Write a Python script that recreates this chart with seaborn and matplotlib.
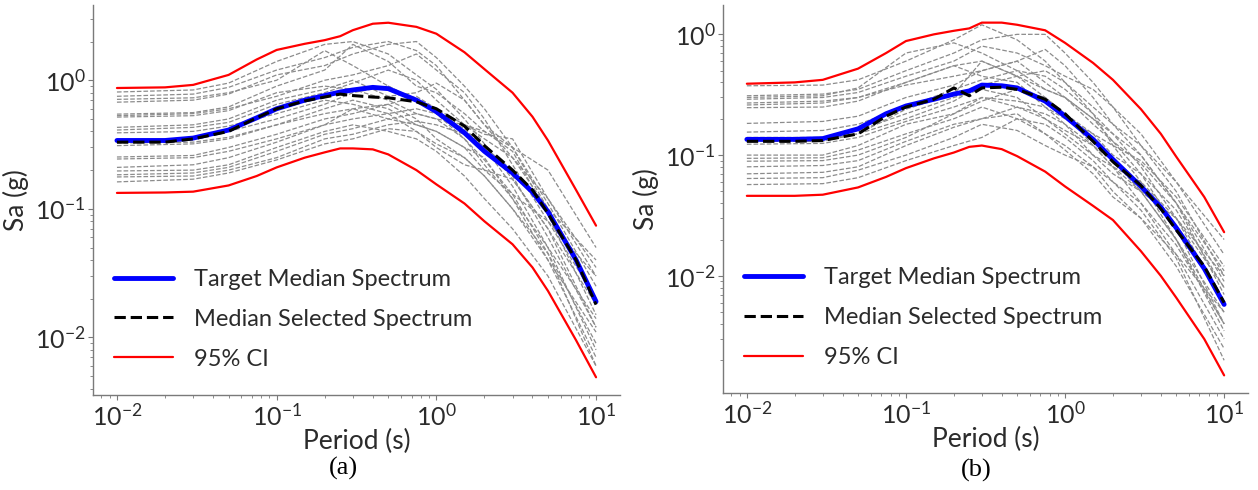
import numpy as np
import pandas as pd
import matplotlib
matplotlib.use("Agg")
import matplotlib.pyplot as plt
import seaborn as sns

# Periods (s) used for the target / CI curves
periods = [0.01, 0.02, 0.03, 0.05, 0.075, 0.1, 0.15, 0.2, 0.25, 0.3, 0.4,
           0.5, 0.75, 1.0, 1.5, 2.0, 3.0, 4.0, 5.0, 7.5, 10.0]
# Periods (s) at which the individual selected records are read
rec_periods = [0.01, 0.03, 0.05, 0.1, 0.2, 0.3, 0.5, 0.75, 1.0, 1.5, 2.0,
               3.0, 5.0, 10.0]

# ---- panel (a) ----
target_a = [0.34, 0.34, 0.355, 0.41, 0.51, 0.6, 0.7, 0.76, 0.81, 0.84, 0.88,
            0.86, 0.7, 0.57, 0.39, 0.28, 0.19, 0.135, 0.095, 0.04, 0.019]
median_a = [0.33, 0.33, 0.35, 0.40, 0.51, 0.6, 0.69, 0.74, 0.78, 0.76, 0.74,
            0.73, 0.68, 0.6, 0.44, 0.31, 0.2, 0.14, 0.092, 0.04, 0.018]
upper_a = [0.87, 0.88, 0.92, 1.1, 1.45, 1.72, 1.92, 2.05, 2.2, 2.45, 2.75,
           2.8, 2.6, 2.3, 1.65, 1.22, 0.8, 0.52, 0.34, 0.14, 0.074]
lower_a = [0.133, 0.134, 0.136, 0.152, 0.18, 0.21, 0.25, 0.275, 0.295, 0.295,
           0.29, 0.265, 0.2, 0.155, 0.11, 0.08, 0.053, 0.035, 0.023, 0.0095,
           0.0049]
records_a = [
    [0.81, 0.84, 0.95, 1.4, 1.9, 2.0, 1.6, 1.1, 0.85, 0.5, 0.32, 0.17, 0.07, 0.012],
    [0.75, 0.78, 0.88, 1.2, 1.5, 1.8, 2.0, 1.7, 1.3, 0.7, 0.45, 0.25, 0.1, 0.02],
    [0.71, 0.73, 0.8, 1.0, 1.7, 1.3, 0.9, 0.7, 0.55, 0.4, 0.3, 0.15, 0.05, 0.008],
    [0.675, 0.7, 0.78, 1.1, 1.3, 1.6, 1.9, 2.0, 1.5, 0.9, 0.6, 0.3, 0.11, 0.025],
    [0.545, 0.56, 0.62, 0.9, 1.2, 1.9, 1.4, 0.9, 0.8, 0.55, 0.4, 0.28, 0.09, 0.015],
    [0.53, 0.55, 0.6, 0.75, 1.0, 1.1, 1.3, 1.6, 1.2, 0.8, 0.5, 0.22, 0.08, 0.03],
    [0.517, 0.53, 0.58, 0.8, 0.9, 0.85, 0.7, 0.55, 0.5, 0.35, 0.24, 0.13, 0.045, 0.006],
    [0.43, 0.45, 0.5, 0.7, 0.85, 1.0, 0.75, 0.8, 0.95, 0.7, 0.45, 0.3, 0.2, 0.05],
    [0.41, 0.43, 0.47, 0.65, 0.8, 0.95, 1.2, 1.0, 0.7, 0.45, 0.38, 0.35, 0.12, 0.035],
    [0.39, 0.4, 0.44, 0.55, 0.7, 0.65, 0.55, 0.6, 0.55, 0.42, 0.3, 0.18, 0.06, 0.012],
    [0.343, 0.35, 0.4, 0.5, 0.65, 0.8, 0.9, 0.7, 0.55, 0.35, 0.22, 0.12, 0.04, 0.007],
    [0.325, 0.33, 0.36, 0.45, 0.6, 0.7, 0.6, 0.45, 0.4, 0.3, 0.2, 0.13, 0.08, 0.02],
    [0.31, 0.32, 0.35, 0.45, 0.55, 0.6, 0.65, 0.75, 0.6, 0.45, 0.35, 0.25, 0.12, 0.03],
    [0.253, 0.26, 0.3, 0.38, 0.5, 0.55, 0.65, 0.5, 0.35, 0.25, 0.18, 0.1, 0.045, 0.009],
    [0.244, 0.25, 0.28, 0.35, 0.45, 0.6, 0.5, 0.55, 0.5, 0.45, 0.4, 0.3, 0.1, 0.02],
    [0.21, 0.22, 0.25, 0.33, 0.45, 0.5, 0.55, 0.4, 0.3, 0.22, 0.2, 0.17, 0.07, 0.018],
    [0.197, 0.2, 0.22, 0.3, 0.4, 0.45, 0.4, 0.35, 0.28, 0.18, 0.12, 0.07, 0.03, 0.006],
    [0.184, 0.19, 0.21, 0.28, 0.38, 0.42, 0.5, 0.45, 0.4, 0.3, 0.25, 0.12, 0.05, 0.014],
    [0.177, 0.18, 0.2, 0.25, 0.35, 0.38, 0.45, 0.48, 0.45, 0.38, 0.3, 0.2, 0.1, 0.04],
    [0.162, 0.17, 0.19, 0.24, 0.32, 0.35, 0.42, 0.4, 0.32, 0.25, 0.18, 0.1, 0.04, 0.011],
]

# ---- panel (b) ----
target_b = [0.135, 0.135, 0.137, 0.165, 0.22, 0.255, 0.29, 0.32, 0.34, 0.38,
            0.375, 0.36, 0.28, 0.21, 0.135, 0.092, 0.055, 0.037, 0.025,
            0.0115, 0.0058]
median_b = [0.13, 0.13, 0.132, 0.15, 0.21, 0.25, 0.29, 0.36, 0.31, 0.36,
            0.365, 0.35, 0.29, 0.22, 0.13, 0.088, 0.056, 0.036, 0.024, 0.012,
            0.006]
upper_b = [0.39, 0.40, 0.42, 0.52, 0.7, 0.88, 1.0, 1.07, 1.12, 1.25, 1.25,
           1.2, 1.08, 0.85, 0.58, 0.42, 0.24, 0.15, 0.097, 0.045, 0.023]
lower_b = [0.046, 0.046, 0.047, 0.054, 0.066, 0.078, 0.094, 0.105, 0.117,
           0.12, 0.112, 0.098, 0.073, 0.055, 0.038, 0.029, 0.016, 0.01,
           0.0066, 0.003, 0.0015]
records_b = [
    [0.375, 0.38, 0.42, 0.6, 0.9, 1.2, 0.9, 0.6, 0.4, 0.22, 0.15, 0.08, 0.03, 0.006],
    [0.31, 0.32, 0.35, 0.5, 0.7, 0.9, 1.0, 1.0, 0.7, 0.4, 0.25, 0.12, 0.05, 0.01],
    [0.30, 0.31, 0.36, 0.7, 0.85, 0.7, 0.5, 0.35, 0.3, 0.2, 0.13, 0.07, 0.025, 0.004],
    [0.29, 0.3, 0.33, 0.45, 0.6, 0.8, 0.7, 0.55, 0.45, 0.35, 0.25, 0.15, 0.06, 0.015],
    [0.27, 0.28, 0.3, 0.4, 0.55, 0.6, 0.45, 0.3, 0.22, 0.12, 0.08, 0.04, 0.015, 0.003],
    [0.26, 0.27, 0.3, 0.38, 0.45, 0.5, 0.6, 0.75, 0.55, 0.3, 0.18, 0.1, 0.04, 0.009],
    [0.247, 0.25, 0.28, 0.4, 0.55, 0.45, 0.4, 0.25, 0.18, 0.1, 0.07, 0.05, 0.03, 0.008],
    [0.183, 0.19, 0.21, 0.3, 0.38, 0.5, 0.6, 0.4, 0.3, 0.2, 0.15, 0.1, 0.04, 0.007],
    [0.155, 0.16, 0.18, 0.25, 0.35, 0.42, 0.5, 0.45, 0.35, 0.22, 0.12, 0.06, 0.02, 0.0035],
    [0.14, 0.14, 0.16, 0.22, 0.3, 0.35, 0.3, 0.2, 0.15, 0.1, 0.08, 0.06, 0.03, 0.01],
    [0.13, 0.13, 0.15, 0.2, 0.28, 0.38, 0.45, 0.5, 0.4, 0.25, 0.18, 0.12, 0.06, 0.02],
    [0.123, 0.125, 0.14, 0.19, 0.25, 0.3, 0.25, 0.2, 0.16, 0.12, 0.09, 0.05, 0.02, 0.004],
    [0.1, 0.1, 0.12, 0.18, 0.22, 0.28, 0.35, 0.3, 0.22, 0.15, 0.1, 0.07, 0.035, 0.008],
    [0.094, 0.095, 0.11, 0.15, 0.2, 0.25, 0.2, 0.15, 0.12, 0.08, 0.05, 0.03, 0.012, 0.0025],
    [0.089, 0.09, 0.1, 0.14, 0.22, 0.3, 0.28, 0.25, 0.2, 0.15, 0.12, 0.09, 0.045, 0.012],
    [0.08, 0.082, 0.09, 0.13, 0.18, 0.2, 0.22, 0.15, 0.11, 0.07, 0.045, 0.03, 0.015, 0.005],
    [0.07, 0.072, 0.08, 0.12, 0.17, 0.2, 0.25, 0.22, 0.18, 0.12, 0.08, 0.05, 0.02, 0.005],
    [0.064, 0.065, 0.075, 0.1, 0.14, 0.18, 0.16, 0.12, 0.1, 0.08, 0.06, 0.04, 0.018, 0.004],
    [0.057, 0.058, 0.065, 0.09, 0.12, 0.14, 0.2, 0.18, 0.14, 0.09, 0.06, 0.035, 0.014, 0.002],
    [0.135, 0.136, 0.15, 0.24, 0.32, 0.6, 0.45, 0.35, 0.3, 0.18, 0.13, 0.085, 0.04, 0.011],
]

TEXT = "#2b2b2b"
SPINE = "#7a7a7a"


def draw_panel(ax, records, target, median, upper, lower):
    # individual selected ground motions
    for rec in records:
        sns.lineplot(x=rec_periods, y=rec, ax=ax, color="#8c8c8c",
                     linestyle="--", linewidth=0.9, zorder=1)
    sns.lineplot(x=periods, y=target, ax=ax, color="blue", linewidth=3.5,
                 label="Target Median Spectrum", zorder=3)
    sns.lineplot(x=periods, y=median, ax=ax, color="black", linestyle="--",
                 linewidth=2.2, label="Median Selected Spectrum", zorder=4)
    sns.lineplot(x=periods, y=upper, ax=ax, color="red", linewidth=1.6,
                 label="95% CI", zorder=2)
    sns.lineplot(x=periods, y=lower, ax=ax, color="red", linewidth=1.6,
                 zorder=2)

    ax.set_xscale("log")
    ax.set_yscale("log")
    ax.set_xlabel("Period (s)", fontsize=19, color=TEXT, labelpad=0)
    ax.set_ylabel("Sa (g)", fontsize=19, color=TEXT, labelpad=4)
    ax.tick_params(axis="both", which="major", labelsize=18, colors=TEXT,
                   length=3.5, width=0.8, color=SPINE, pad=2)
    ax.tick_params(axis="both", which="minor", length=2, width=0.6,
                   color=SPINE)
    for side in ["top", "right"]:
        ax.spines[side].set_visible(False)
    for side in ["left", "bottom"]:
        ax.spines[side].set_color(SPINE)
        ax.spines[side].set_linewidth(1.0)

    leg = ax.legend(loc="lower left", bbox_to_anchor=(0.04, 0.065),
                    frameon=False, fontsize=17, handlelength=2.5,
                    handletextpad=0.9, labelspacing=0.8, borderaxespad=0,
                    borderpad=0)
    for t in leg.get_texts():
        t.set_color(TEXT)


sns.set_style("ticks")
plt.rcParams["font.family"] = ["Lato", "DejaVu Sans"]
plt.rcParams["mathtext.fontset"] = "custom"
plt.rcParams["mathtext.rm"] = "Lato"
plt.rcParams["mathtext.it"] = "Lato:italic"

fig = plt.figure(figsize=(12.58, 4.90), dpi=100)
ax_a = fig.add_axes([93 / 1258, 95 / 490, 527 / 1258, 390 / 490])
ax_b = fig.add_axes([723 / 1258, 97 / 490, 525 / 1258, 388 / 490])

draw_panel(ax_a, records_a, target_a, median_a, upper_a, lower_a)
draw_panel(ax_b, records_b, target_b, median_b, upper_b, lower_b)

fig.text(343 / 1258, 1 - 468 / 490, "(a)", ha="center", va="center",
         fontsize=19, family="Liberation Serif", color="black")
fig.text(976 / 1258, 1 - 470 / 490, "(b)", ha="center", va="center",
         fontsize=19, family="Liberation Serif", color="black")

fig.savefig("out.png", dpi=100, facecolor="white")
